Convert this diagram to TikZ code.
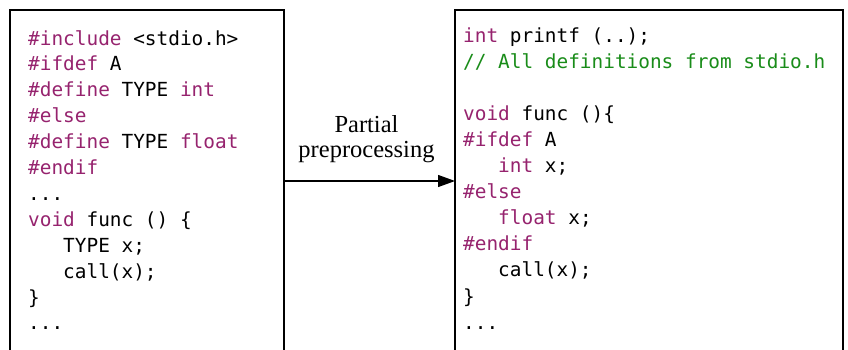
\documentclass[tikz,border=0pt]{standalone}
\usepackage{fontspec}
\setmainfont{Liberation Serif}
\setmonofont{DejaVu Sans Mono}
\usetikzlibrary{arrows.meta,calc}
\definecolor{kw}{RGB}{150,35,110}
\definecolor{cm}{RGB}{25,140,25}
\newcommand{\ind}{\phantom{xxx}}
\begin{document}
\begin{tikzpicture}[x=1pt,y=-1pt,
  codebox/.style={draw, line width=1.3pt, inner sep=0pt, outer sep=0pt, anchor=north west},
  code/.style={font=\ttfamily\fontsize{19.4}{25.9}\selectfont, inner sep=0pt, anchor=base west},
  caption/.style={font=\fontsize{24.5}{25.5}\selectfont, align=center, inner sep=0pt},
  flow/.style={line width=1.2pt, -{Triangle[length=17pt,width=12pt]}}]
\useasboundingbox (0,0) rectangle (848,349);
\clip (0,0) rectangle (848,349);

% the two source listings
\node[codebox, minimum width=274pt, minimum height=342pt] (src) at (10,10) {};
\node[codebox, minimum width=388pt, minimum height=342pt] (dst) at (455,10) {};

% original code with preprocessor directives
\node[code] (s1)  at (28, 45.0)  {\textcolor{kw}{\#include} <stdio.h>};
\node[code] (s2)  at (28, 70.9)  {\textcolor{kw}{\#ifdef} A};
\node[code] (s3)  at (28, 96.8)  {\textcolor{kw}{\#define} TYPE \textcolor{kw}{int}};
\node[code] (s4)  at (28, 122.7) {\textcolor{kw}{\#else}};
\node[code] (s5)  at (28, 148.6) {\textcolor{kw}{\#define} TYPE \textcolor{kw}{float}};
\node[code] (s6)  at (28, 174.5) {\textcolor{kw}{\#endif}};
\node[code] (s7)  at (28, 200.4) {...};
\node[code] (s8)  at (28, 226.3) {\textcolor{kw}{void} func () \{};
\node[code] (s9)  at (28, 252.2) {\ind TYPE x;};
\node[code] (s10) at (28, 278.1) {\ind call(x);};
\node[code] (s11) at (28, 304.0) {\}};
\node[code] (s12) at (28, 329.9) {...};

% partially preprocessed code
\node[code] (d1)  at (463, 42.0)  {\textcolor{kw}{int} printf (..);};
\node[code] (d2)  at (463, 68.1)  {\textcolor{cm}{// All definitions from stdio.h}};
\node[code] (d4)  at (463, 120.3) {\textcolor{kw}{void} func ()\{};
\node[code] (d5)  at (463, 146.4) {\textcolor{kw}{\#ifdef} A};
\node[code] (d6)  at (463, 172.5) {\ind\textcolor{kw}{int} x;};
\node[code] (d7)  at (463, 198.6) {\textcolor{kw}{\#else}};
\node[code] (d8)  at (463, 224.7) {\ind\textcolor{kw}{float} x;};
\node[code] (d9)  at (463, 250.8) {\textcolor{kw}{\#endif}};
\node[code] (d10) at (463, 276.9) {\ind call(x);};
\node[code] (d11) at (463, 303.0) {\}};
\node[code] (d12) at (463, 329.1) {...};

% transformation arrow
\draw[flow] (src.east) -- (dst.west);
\node[caption, anchor=south] (lbl) at ($(src.east)!0.5!(dst.west)+(-3,-18)$) {Partial\\preprocessing};
\end{tikzpicture}
\end{document}
